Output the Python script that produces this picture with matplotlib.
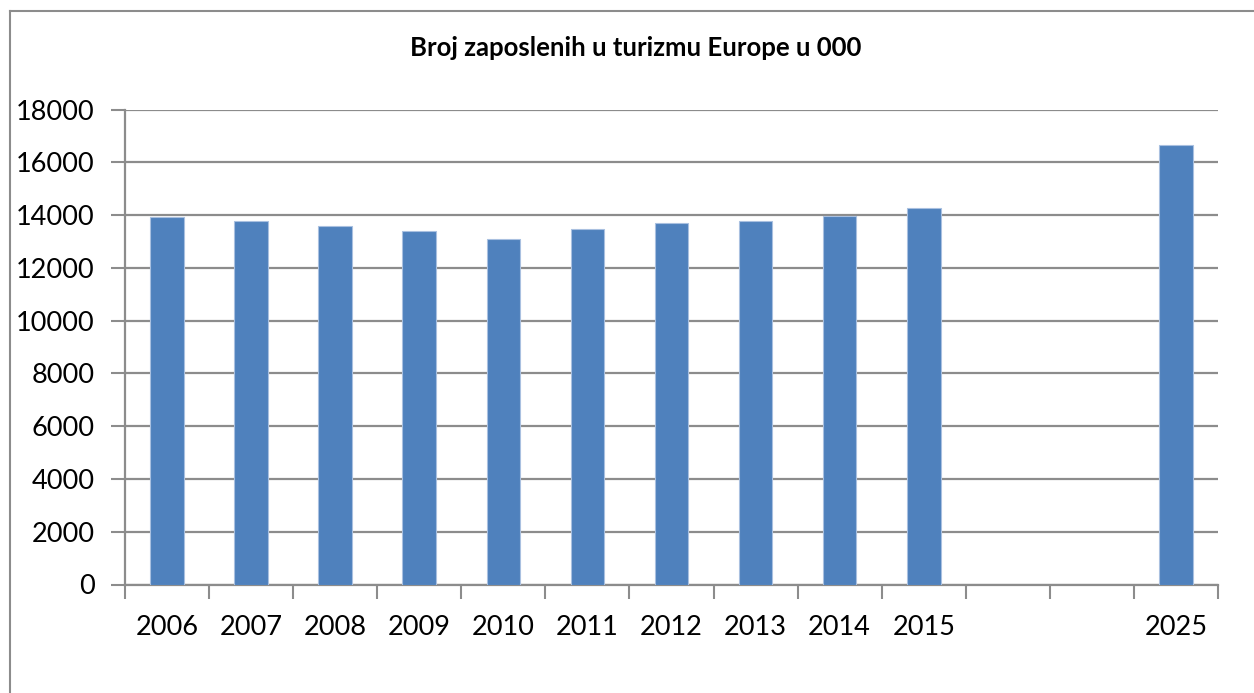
import numpy as np
import matplotlib.pyplot as plt
from matplotlib.lines import Line2D

# data (thousands of employees)
years = ['2006', '2007', '2008', '2009', '2010', '2011', '2012', '2013',
         '2014', '2015', '', '', '2025']
employed = [13920, 13780, 13590, 13390, 13075, 13490, 13690, 13780,
            13960, 14250, np.nan, np.nan, 16650]
y_ticks = [0, 2000, 4000, 6000, 8000, 10000, 12000, 14000, 16000, 18000]

BAR = '#4F81BD'
GRID = '#8C8C8C'

plt.rcParams['font.family'] = ['Lato', 'DejaVu Sans']

fig = plt.figure(figsize=(12.54, 6.93), dpi=100)
ax = fig.add_axes([125 / 1254, 1 - 584.5 / 693, (1218 - 125) / 1254, (584.5 - 109.5) / 693])

x = np.arange(len(years))
ax.bar(x, employed, width=0.4, color=BAR, edgecolor='#A9C0E0', linewidth=0.8, zorder=3)

ax.set_xlim(-0.5, len(years) - 0.5)
ax.set_ylim(0, 18000)
ax.set_yticks(y_ticks)
ax.set_yticklabels([str(v) for v in y_ticks], fontsize=19.5)
ax.set_xticks(x)
ax.set_xticklabels(years, fontsize=19.5)
ax.set_xticks(np.arange(-0.5, len(years)), minor=True)
ax.tick_params(axis='x', which='major', length=0, pad=22)
ax.tick_params(axis='x', which='minor', length=10, width=1.5, color=GRID)
ax.tick_params(axis='y', length=10, width=1.5, color=GRID, pad=12)

ax.grid(axis='y', color=GRID, linewidth=1.6, zorder=0)
for side in ['top', 'right']:
    ax.spines[side].set_visible(False)
for side in ['left', 'bottom']:
    ax.spines[side].set_color(GRID)
    ax.spines[side].set_linewidth(1.6)

fig.text(636 / 1254, 1 - 48 / 693, 'Broj zaposlenih u turizmu Europe u 000',
         ha='center', va='center', fontsize=18.5, fontweight='bold')

# outer chart frame
fig.add_artist(Line2D([10 / 1254, 1.0], [1 - 11 / 693, 1 - 11 / 693],
                      color='#8C8C8C', linewidth=1.5, transform=fig.transFigure))
fig.add_artist(Line2D([10 / 1254, 10 / 1254], [0, 1 - 11 / 693],
                      color='#8C8C8C', linewidth=1.5, transform=fig.transFigure))

fig.savefig('out.png', dpi=100)
